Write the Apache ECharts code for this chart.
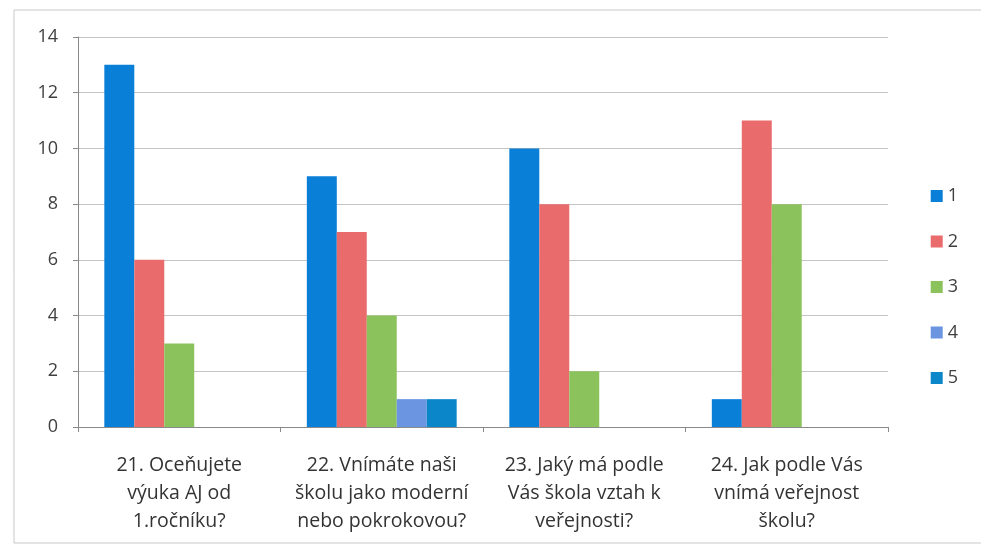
<!DOCTYPE html>
<html>
<head>
<meta charset="utf-8">
<script src="https://cdn.jsdelivr.net/npm/echarts@6/dist/echarts.min.js"></script>
<style>
  html, body { margin: 0; padding: 0; background: #fff; }
  #chart { width: 981px; height: 549px; }
</style>
</head>
<body>
<div id="chart"></div>
<script>
const categories = [
    '21. Oceňujete\nvýuka AJ od\n1.ročníku?',
    '22. Vnímáte naši\nškolu jako moderní\nnebo pokrokovou?',
    '23. Jaký má podle\nVás škola vztah k\nveřejnosti?',
    '24. Jak podle Vás\nvnímá veřejnost\nškolu?'
];
const seriesNames = ['1', '2', '3', '4', '5'];
const s1 = [13, 9, 10, 1];
const s2 = [6, 7, 8, 11];
const s3 = [3, 4, 2, 8];
const s4 = [0, 1, 0, 0];
const s5 = [0, 1, 0, 0];
const colors = ['#0a7fd8', '#e96b6b', '#8cc25c', '#6b95e0', '#0b87c9'];

const myChart = echarts.init(document.getElementById('chart'));
const values = [s1, s2, s3, s4, s5];

const option = {
    color: colors,
    textStyle: { fontFamily: 'Open Sans, Liberation Sans, sans-serif' },
    graphic: [{
        type: 'rect',
        shape: { x: 14, y: 10, width: 990, height: 533 },
        style: { fill: 'none', stroke: '#c8c8c8', lineWidth: 1 },
        silent: true
    }],
    grid: { left: 78, right: 93, top: 37, bottom: 122 },
    legend: {
        orient: 'vertical',
        right: 18,
        top: 182,
        itemWidth: 12,
        itemHeight: 12,
        itemGap: 27.5,
        icon: 'rect',
        textStyle: { fontSize: 18, color: '#404040' },
        data: seriesNames
    },
    xAxis: {
        type: 'category',
        data: categories,
        axisLine: { show: true, lineStyle: { color: '#8a8a8a' } },
        axisTick: { show: true, length: 5, lineStyle: { color: '#8a8a8a' } },
        axisLabel: { fontSize: 19.5, color: '#333', lineHeight: 28, margin: 24, interval: 0 }
    },
    yAxis: {
        type: 'value',
        min: 0,
        max: 14,
        interval: 2,
        axisLine: { show: true, lineStyle: { color: '#8a8a8a' } },
        axisTick: { show: true, length: 5, lineStyle: { color: '#8a8a8a' } },
        axisLabel: { fontSize: 18, color: '#404040', margin: 20 },
        splitLine: { lineStyle: { color: '#c4c4c4' } }
    },
    series: seriesNames.map((name, i) => ({
        name: name,
        type: 'bar',
        data: values[i],
        barGap: '0%',
        barCategoryGap: '26%'
    }))
};

myChart.setOption(option);
</script>
</body>
</html>
